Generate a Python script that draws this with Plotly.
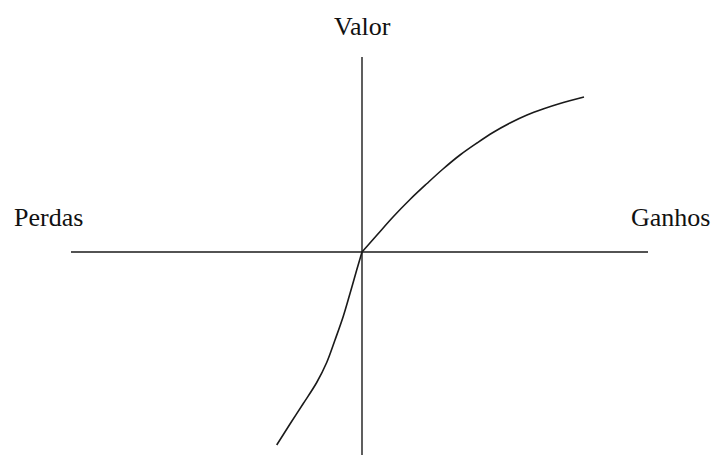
import plotly.graph_objects as go

# value function (prospect theory), origin at the axes crossing
ganhos_x = [0, 15, 31, 48, 65, 81, 98, 115, 131, 148, 165, 181, 198, 222]
ganhos_y = [0, 17, 35, 52.5, 68.5, 83, 97, 109, 119.5, 129, 137, 143, 148.5, 155]
perdas_x = [-85.3, -72, -58.7, -45.3, -35.3, -27, -18.7, -12, -5.3, 0]
perdas_y = [-193, -172, -151.5, -130.5, -110.5, -88, -64.2, -41.5, -18, 0]

# axis extents
eixo_x = [-291, 286]
eixo_y = [-203, 195]

labels = ["Perdas", "Ganhos", "Valor"]

fig = go.Figure()

ink = "#1a1a1a"

fig.add_trace(go.Scatter(x=eixo_x, y=[0, 0], mode="lines",
                         line=dict(color=ink, width=1.4), hoverinfo="skip"))
fig.add_trace(go.Scatter(x=[0, 0], y=eixo_y, mode="lines",
                         line=dict(color=ink, width=1.4), hoverinfo="skip"))
fig.add_trace(go.Scatter(x=perdas_x, y=perdas_y, mode="lines",
                         line=dict(color=ink, width=1.6, shape="spline", smoothing=1),
                         hoverinfo="skip"))
fig.add_trace(go.Scatter(x=ganhos_x, y=ganhos_y, mode="lines",
                         line=dict(color=ink, width=1.6, shape="spline", smoothing=1),
                         hoverinfo="skip"))

font = dict(family="Liberation Serif, Times New Roman, serif", size=26, color="#111")
fig.add_annotation(x=-350, y=35, text=labels[0], showarrow=False,
                   xanchor="left", yanchor="middle", font=font)
fig.add_annotation(x=350, y=35, text=labels[1], showarrow=False,
                   xanchor="right", yanchor="middle", font=font)
fig.add_annotation(x=0.5, y=226, text=labels[2], showarrow=False,
                   xanchor="center", yanchor="middle", font=font)

fig.update_layout(
    width=715, height=455,
    margin=dict(l=0, r=0, t=0, b=0),
    paper_bgcolor="white", plot_bgcolor="white",
    showlegend=False,
    xaxis=dict(range=[-362, 353], visible=False, fixedrange=True),
    yaxis=dict(range=[-203, 252], visible=False, fixedrange=True),
)

fig.write_html("out.html", config={"displayModeBar": False},
               post_script="document.body.style.margin='0';document.body.style.overflow='hidden';")
